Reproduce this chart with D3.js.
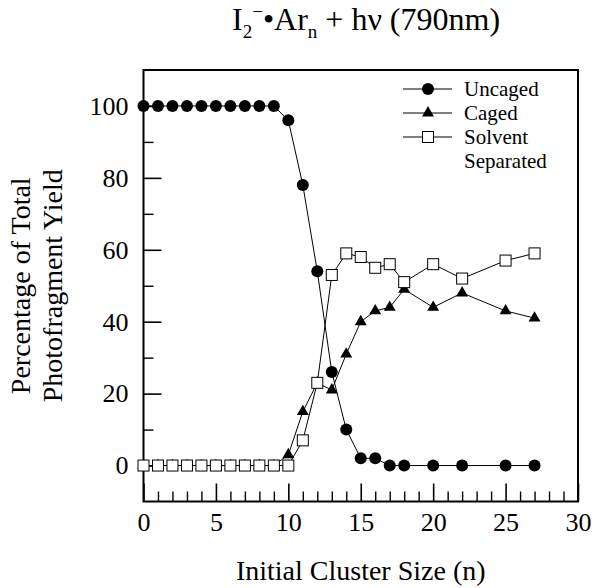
<!DOCTYPE html>
<html>
<head>
<meta charset="utf-8">
<script src="https://cdn.jsdelivr.net/npm/d3@7"></script>
<style>
  html, body { margin: 0; padding: 0; background: #fff; }
  svg { display: block; }
  svg text { font-family: "Liberation Serif", "Times New Roman", serif; fill: #000; }
</style>
</head>
<body>
<svg id="chart" width="594" height="588"></svg>
<script>
// cluster sizes n and percentages
const clusterSize = [0, 1, 2, 3, 4, 5, 6, 7, 8, 9, 10, 11, 12, 13, 14, 15, 16, 17, 18, 20, 22, 25, 27];
const uncaged =     [100, 100, 100, 100, 100, 100, 100, 100, 100, 100, 96, 78, 54, 26, 10, 2, 2, 0, 0, 0, 0, 0, 0];
const caged =       [0, 0, 0, 0, 0, 0, 0, 0, 0, 0, 3, 15, 23, 21, 31, 40, 43, 44, 49, 44, 48, 43, 41];
const solvent =     [0, 0, 0, 0, 0, 0, 0, 0, 0, 0, 0, 7, 23, 53, 59, 58, 55, 56, 51, 56, 52, 57, 59];

const xMajorTicks = [0, 5, 10, 15, 20, 25, 30];
const yMajorTicks = [0, 20, 40, 60, 80, 100];
const yMinorTicks = [10, 30, 50, 70, 90];
const legendLabels = ['Uncaged', 'Caged', 'Solvent'];

const svg = d3.select('#chart');

const x = d3.scaleLinear().domain([0, 30]).range([143.5, 578]);
const y = d3.scaleLinear().domain([-10, 110]).range([501.5, 70]);

const tickFont = '26px';
const titleFont = '28px';
const serif = '"Liberation Serif", "Times New Roman", serif';

function styleTickText(g) {
  g.attr('font-family', serif);
  g.selectAll('text')
    .style('font-family', serif)
    .style('font-size', tickFont)
    .attr('fill', '#000');
}

// x axis: majors with labels, minors without, all pointing inward
const xAxisG = svg.append('g')
  .attr('transform', `translate(0,${y(-10)})`)
  .call(d3.axisBottom(x).tickValues(xMajorTicks).tickSize(-18).tickPadding(11).tickFormat(d3.format('d')));
xAxisG.call(styleTickText);
xAxisG.select('.domain').remove();
xAxisG.selectAll('line').attr('stroke-width', 1.6);

const xMinor = d3.range(1, 30).filter(v => v % 5 !== 0);
const xMinorG = svg.append('g')
  .attr('transform', `translate(0,${y(-10)})`)
  .call(d3.axisBottom(x).tickValues(xMinor).tickSize(-10).tickFormat(''));
xMinorG.select('.domain').remove();
xMinorG.selectAll('line').attr('stroke-width', 1.4);

// y axis
const yAxisG = svg.append('g')
  .attr('transform', `translate(${x(0)},0)`)
  .call(d3.axisLeft(y).tickValues(yMajorTicks).tickSize(-18).tickPadding(15).tickFormat(d3.format('d')));
yAxisG.call(styleTickText);
yAxisG.select('.domain').remove();
yAxisG.selectAll('line').attr('stroke-width', 1.6);

const yMinorG = svg.append('g')
  .attr('transform', `translate(${x(0)},0)`)
  .call(d3.axisLeft(y).tickValues(yMinorTicks).tickSize(-10).tickFormat(''));
yMinorG.select('.domain').remove();
yMinorG.selectAll('line').attr('stroke-width', 1.4);

// frame
svg.append('rect')
  .attr('x', x(0)).attr('y', y(110))
  .attr('width', x(30) - x(0)).attr('height', y(-10) - y(110))
  .attr('fill', 'none').attr('stroke', '#000').attr('stroke-width', 2);

// series lines
const rows = clusterSize.map((n, i) => ({ n, u: uncaged[i], c: caged[i], s: solvent[i] }));
const lineFor = key => d3.line().x(d => x(d.n)).y(d => y(d[key]));

['u', 'c', 's'].forEach(key => {
  svg.append('path')
    .datum(rows)
    .attr('d', lineFor(key))
    .attr('fill', 'none')
    .attr('stroke', '#000')
    .attr('stroke-width', 1);
});

// markers
const circleR = 6;
const triSym = d3.symbol().type(d3.symbolTriangle).size(62);
const sq = 11;

svg.append('g').selectAll('circle')
  .data(rows).enter().append('circle')
  .attr('cx', d => x(d.n)).attr('cy', d => y(d.u))
  .attr('r', circleR).attr('fill', '#000');

svg.append('g').selectAll('path')
  .data(rows).enter().append('path')
  .attr('d', triSym)
  .attr('transform', d => `translate(${x(d.n)},${y(d.c)})`)
  .attr('fill', '#000');

svg.append('g').selectAll('rect')
  .data(rows).enter().append('rect')
  .attr('x', d => x(d.n) - sq / 2)
  .attr('y', d => y(d.s) - sq / 2)
  .attr('width', sq).attr('height', sq)
  .attr('fill', '#fff').attr('stroke', '#000').attr('stroke-width', 1);

// legend
const legend = svg.append('g').attr('transform', 'translate(403,89)');
const rowGap = 24;
legendLabels.forEach((label, i) => {
  const g = legend.append('g').attr('transform', `translate(0,${i * rowGap})`);
  g.append('line').attr('x1', 0).attr('x2', 49).attr('y1', 0).attr('y2', 0)
    .attr('stroke', '#000').attr('stroke-width', 1);
  if (i === 0) {
    g.append('circle').attr('cx', 25).attr('cy', 0).attr('r', circleR).attr('fill', '#000');
  } else if (i === 1) {
    g.append('path').attr('d', triSym).attr('transform', 'translate(25,0)').attr('fill', '#000');
  } else {
    g.append('rect').attr('x', 25 - sq / 2).attr('y', -sq / 2).attr('width', sq).attr('height', sq)
      .attr('fill', '#fff').attr('stroke', '#000');
  }
  g.append('text').attr('x', 61).attr('y', 7).style('font-size', '21px').text(label);
});
legend.append('text').attr('x', 61).attr('y', 3 * rowGap + 7).style('font-size', '21px').text('Separated');

// axis titles
svg.append('text')
  .attr('x', (x(0) + x(30)) / 2).attr('y', 580)
  .attr('text-anchor', 'middle').style('font-size', titleFont)
  .text('Initial Cluster Size (n)');

const yTitle = svg.append('text')
  .attr('transform', `translate(0,${y(50)}) rotate(-90)`)
  .attr('text-anchor', 'middle').style('font-size', titleFont);
yTitle.append('tspan').attr('x', 0).attr('y', 30).text('Percentage of Total');
yTitle.append('tspan').attr('x', 0).attr('y', 62).text('Photofragment Yield');

// chart title: I2^- . Ar_n + hν (790nm)
const title = svg.append('text')
  .attr('x', 232).attr('y', 30)
  .style('font-size', '32px');
title.append('tspan').text('I');
title.append('tspan').attr('dy', 8).style('font-size', '19px').text('2');
title.append('tspan').attr('dy', -20).style('font-size', '19px').text('\u2212');
title.append('tspan').attr('dy', 12).text('\u2022Ar');
title.append('tspan').attr('dy', 8).style('font-size', '19px').text('n');
title.append('tspan').attr('dy', -8).text(' + h\u03bd (790nm)');
</script>
</body>
</html>
